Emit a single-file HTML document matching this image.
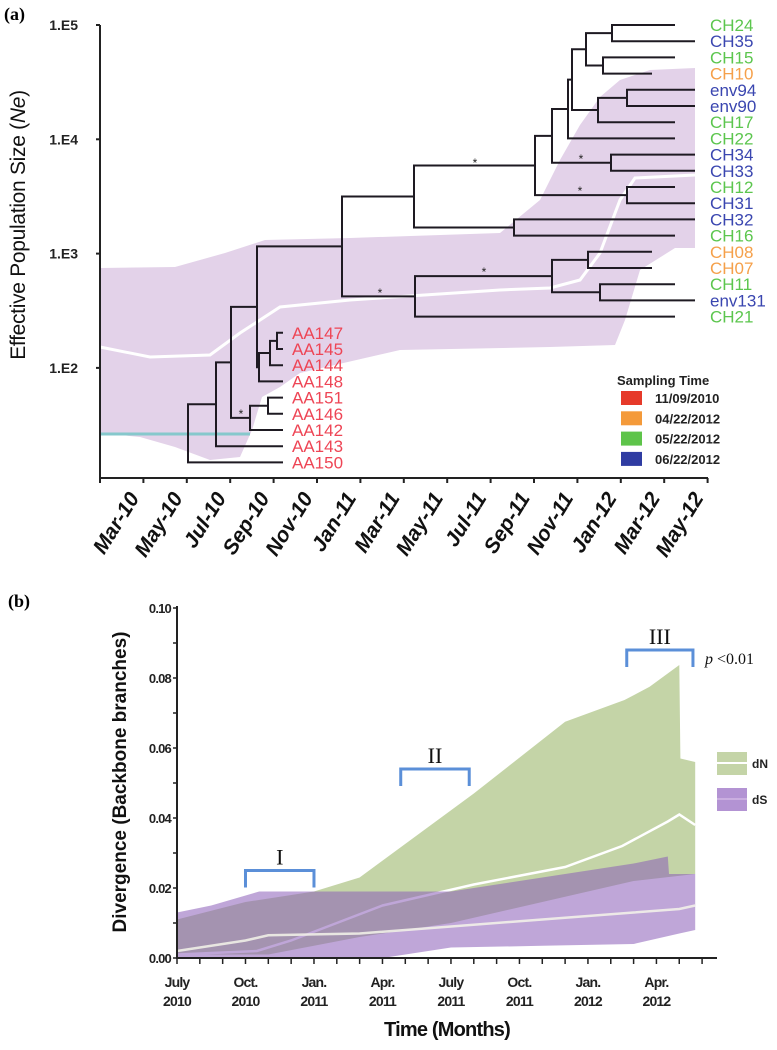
<!DOCTYPE html>
<html><head><meta charset="utf-8"><style>
html,body{margin:0;padding:0;background:#fff;}
svg{display:block;font-family:"Liberation Sans",sans-serif;}
</style></head><body>
<svg id="fig" width="777" height="1050" viewBox="0 0 777 1050" xmlns="http://www.w3.org/2000/svg">
<g id="pa"></g>
<g id="pb"></g>
</svg>
<script>
// ===== Panel (a) data =====
const yTicksA = ["1.E5","1.E4","1.E3","1.E2"];
const yTickExpA = [5,4,3,2];
const xLabelsA = ["Mar-10","May-10","Jul-10","Sep-10","Nov-10","Jan-11","Mar-11","May-11","Jul-11","Sep-11","Nov-11","Jan-12","Mar-12","May-12"];
const leafNames = ["CH24","CH35","CH15","CH10","env94","env90","CH17","CH22","CH34","CH33","CH12","CH31","CH32","CH16","CH08","CH07","CH11","env131","CH21","AA147","AA145","AA144","AA148","AA151","AA146","AA142","AA143","AA150"];
const leafGroup = [2,3,2,1,3,3,2,2,3,3,2,3,3,2,1,1,2,3,2,0,0,0,0,0,0,0,0,0];
const leafTipX = [675,695,675,652,695,695,675,675,695,695,675,695,695,675,652,652,675,695,675,283,283,283,283,283,283,283,283,283];
const nodeX = [612,603,586,627,598,572,568,611,552,627,535,514,414,588,600,552,415,342,277,270,259,257,268,250,231,216,188];
const nodeA = [0,2,28,4,31,30,33,8,34,10,36,12,38,14,16,41,43,40,19,46,47,45,23,50,49,52,53];
const nodeB = [1,3,29,5,6,32,7,9,35,11,37,13,39,15,17,42,18,44,20,21,22,48,24,25,51,26,27];
const legendDates = ["11/09/2010","04/22/2012","05/22/2012","06/22/2012"];
const bandTop = [[100,268],[175,267],[225,253],[265,240],[350,238],[500,233],[540,200],[560,160],[580,125],[600,97],[620,80],[650,70],[695,68],[695,248]];
const bandBot = [[675,248],[640,270],[625,320],[615,345],[550,347],[400,350],[300,373],[280,387],[262,397],[252,430],[240,457],[210,460],[175,447],[140,437],[100,433]];
const medianA = [[100,347],[150,357],[210,355],[240,333],[280,307],[350,300],[500,290],[550,288],[580,280],[600,253],[620,200],[635,178],[695,175]];

// ===== Panel (b) data (t = months since July 2010) =====
const yTicksB = [0,0.02,0.04,0.06,0.08,0.10];
const xLabelsB1 = ["July","Oct.","Jan.","Apr.","July","Oct.","Jan.","Apr."];
const xLabelsB2 = ["2010","2010","2011","2011","2011","2011","2012","2012"];
const dNUpT = [0,3,6,8,13,17,19.6,20.7,22,22.05,22.7];
const dNUpV = [0.011,0.016,0.019,0.023,0.047,0.0675,0.0737,0.0775,0.0837,0.057,0.056];
const dNLoT = [0,4,8,12,16,20,22.7];
const dNLoV = [0.001,0.001,0.006,0.010,0.016,0.022,0.024];
const dNMedT = [0,3.5,5,9,13,17,19.5,21.5,22,22.7];
const dNMedV = [0.001,0.002,0.005,0.015,0.021,0.026,0.032,0.039,0.041,0.038];
const dSUpT = [0,1.5,3.6,12,14,17,20,21.5,21.55,22.7];
const dSUpV = [0.013,0.015,0.019,0.019,0.021,0.024,0.027,0.029,0.024,0.024];
const dSLoT = [0,9,12,16,20,22,22.7];
const dSLoV = [0,0,0.003,0.0035,0.004,0.007,0.008];
const dSMedT = [0,3,4,8,12,16,20,22,22.7];
const dSMedV = [0.002,0.005,0.0065,0.007,0.009,0.011,0.013,0.014,0.015];
const bracketStart = [3,9.8,19.7];
const bracketEnd = [6,12.8,22.6];
const bracketVal = [0.025,0.054,0.088];
const bracketLabels = ["I","II","III"];

const NS="http://www.w3.org/2000/svg";
function mk(tag,attrs,parent,text){const e=document.createElementNS(NS,tag);for(const k in attrs)e.setAttribute(k,attrs[k]);if(text!==undefined)e.textContent=text;parent.appendChild(e);return e;}

// ===== Panel A =====
const pa=document.getElementById('pa');
const yA = e => 25 + (5-e)*114.3;
const xA = i => 100 + i*43.4;
const leafY = i => 25 + i*16.2;
let t=mk('text',{x:4,y:20,'font-family':'Liberation Serif,serif','font-weight':'bold','font-size':18},pa,'(a)');


let band=mk('path',{d:'M'+bandTop.concat(bandBot).map(p=>p.join(',')).join('L')+'Z',fill:'#e3d2e9'},pa);


let med=mk('path',{d:'M'+medianA.map(p=>p.join(',')).join('L'),fill:'none',stroke:'#fff','stroke-width':3},pa);


let cy=mk('line',{x1:100,y1:434,x2:250,y2:434,stroke:'#86c8cc','stroke-width':3},pa);


// axes
let ax=mk('path',{d:'M100,25V478H708',fill:'none',stroke:'#222','stroke-width':2},pa);


yTickExpA.forEach((e,i)=>{
  mk('line',{x1:96,x2:100,y1:yA(e),y2:yA(e),stroke:'#222','stroke-width':2},pa);
  const l=mk('text',{x:78,y:yA(e)+5,'text-anchor':'end','font-size':14,'font-weight':'bold',fill:'#222'},pa,yTicksA[i]);
  
  
});
for(let i=0;i<15;i++){mk('line',{x1:xA(i),x2:xA(i),y1:478,y2:483,stroke:'#222','stroke-width':2},pa);}
xLabelsA.forEach((s,i)=>{
  const l=mk('text',{transform:`translate(${xA(i)+40},498) rotate(-58)`,'text-anchor':'end','font-size':21,'font-weight':'bold','font-style':'italic',fill:'#111'},pa,s);
  
  
});
let yt=mk('text',{transform:'translate(25,225) rotate(-90)','text-anchor':'middle','font-size':21,'letter-spacing':'-0.3',fill:'#111'},pa,'');


yt.innerHTML='Effective Population Size (<tspan font-style="italic">Ne</tspan>)';
// tree
const posY={};
for(let i=0;i<leafNames.length;i++)posY[i]=leafY(i);
const posX={};
for(let i=0;i<leafNames.length;i++)posX[i]=leafTipX[i];
const tree=mk('g',{stroke:'#1e1a22','stroke-width':2,fill:'none'},pa);


nodeX.forEach((x,k)=>{
  const id=28+k,a=nodeA[k],b=nodeB[k];
  posX[id]=x;posY[id]=(posY[a]+posY[b])/2;
  const br=mk('path',{d:`M${posX[a]},${posY[a]}H${x}V${posY[b]}H${posX[b]}`},tree);
  
  
});
const colors=['#ee4555','#f5a04a','#5cc64e','#3a46b0'];
leafNames.forEach((n,i)=>{
  const x = i<19 ? 710 : 292;
  const l=mk('text',{x:x,y:leafY(i)+6,'font-size':17,fill:colors[leafGroup[i]]},pa,n);
  
  
});
[[475,167],[581,163],[580,195],[484,276],[380,297],[241,418]].forEach(p=>{
  const s=mk('text',{x:p[0],y:p[1],'text-anchor':'middle','font-size':12,fill:'#222'},pa,'*');
  
  
});
// legend a
const lg=mk('g',{},pa);


mk('text',{x:617,y:385,'font-size':13,'font-weight':'bold',fill:'#222'},lg,'Sampling Time');
const lgc=['#e63a2a','#f49a3a','#5ec44a','#2f3ca2'];
legendDates.forEach((d,i)=>{
  const y=398+i*20.3;
  mk('rect',{x:621,y:y-7,width:21,height:14,fill:lgc[i]},lg);
  mk('text',{x:655,y:y+5,'font-size':13,'font-weight':'bold',fill:'#222'},lg,d);
});

// ===== Panel B =====
const pb=document.getElementById('pb');
const xB = m => 177 + m*22.83;
const yB = v => 958 - v*3500;
t=mk('text',{x:8,y:607,'font-family':'Liberation Serif,serif','font-weight':'bold','font-size':18},pb,'(b)');


function bandPath(uT,uV,lT,lV){
  let pts=uT.map((m,i)=>[xB(m),yB(uV[i])]);
  for(let i=lT.length-1;i>=0;i--)pts.push([xB(lT[i]),yB(lV[i])]);
  return 'M'+pts.map(p=>p[0].toFixed(1)+','+p[1].toFixed(1)).join('L')+'Z';
}
function linePath(T,V){return 'M'+T.map((m,i)=>xB(m).toFixed(1)+','+yB(V[i]).toFixed(1)).join('L');}
let g1=mk('path',{d:bandPath(dNUpT,dNUpV,dNLoT,dNLoV),fill:'#c4d4a7'},pb);


let m1=mk('path',{d:linePath(dNMedT,dNMedV),fill:'none',stroke:'#fff','stroke-width':2.5},pb);


let p1=mk('path',{d:bandPath(dSUpT,dSUpV,dSLoT,dSLoV),fill:'#8a5cb8','fill-opacity':0.55},pb);


let m2=mk('path',{d:linePath(dSMedT,dSMedV),fill:'none',stroke:'#f4f4ea','stroke-width':2.5,'stroke-opacity':0.85},pb);


let axb=mk('path',{d:'M177,606V958H717',fill:'none',stroke:'#222','stroke-width':2},pb);


for(let k=0;k<=10;k++){const v=k*0.01;mk('line',{x1:173,x2:177,y1:yB(v),y2:yB(v),stroke:'#222','stroke-width':1.5},pb);}
yTicksB.forEach(v=>{
  const l=mk('text',{x:171,y:yB(v)+5,'text-anchor':'end','font-size':13,'font-weight':'bold','letter-spacing':'-0.8',fill:'#222'},pb,v.toFixed(2));
  
  
});
for(let m=0;m<=23;m++){mk('line',{x1:xB(m),x2:xB(m),y1:958,y2:964,stroke:'#222','stroke-width':1.5},pb);}
xLabelsB1.forEach((s,i)=>{
  const x=xB(i*3);
  let l=mk('text',{x:x,y:987,'text-anchor':'middle','font-size':14,'font-weight':'bold','letter-spacing':'-0.8',fill:'#222'},pb,s);
  
  
  l=mk('text',{x:x,y:1006,'text-anchor':'middle','font-size':14,'font-weight':'bold','letter-spacing':'-0.8',fill:'#222'},pb,xLabelsB2[i]);
  
  
});
let xt=mk('text',{x:447,y:1036,'text-anchor':'middle','font-size':20,'font-weight':'bold','letter-spacing':'-0.8',fill:'#111'},pb,'Time (Months)');


let ytb=mk('text',{transform:'translate(126,782) rotate(-90)','text-anchor':'middle','font-size':19,'font-weight':'bold',fill:'#111'},pb,'Divergence (Backbone branches)');


bracketStart.forEach((s,i)=>{
  const x1=xB(s),x2=xB(bracketEnd[i]),y=yB(bracketVal[i]);
  const b=mk('path',{d:`M${x1},${y+17}V${y}H${x2}V${y+17}`,fill:'none',stroke:'#5b8fd8','stroke-width':3},pb);
  
  
  const l=mk('text',{x:(x1+x2)/2,y:y-6,'text-anchor':'middle','font-family':'Liberation Serif,serif','font-size':22,fill:'#111'},pb,bracketLabels[i]);
  
  
});
let pv=mk('text',{x:705,y:664,'font-family':'Liberation Serif,serif','font-size':16,fill:'#111'},pb,'');


pv.innerHTML='<tspan font-style="italic">p</tspan> &lt;0.01';
const lb=mk('g',{},pb);


mk('rect',{x:717,y:752,width:30,height:23,fill:'#c4d4a7'},lb);
mk('line',{x1:717,x2:747,y1:763,y2:763,stroke:'#fff','stroke-width':2},lb);
mk('text',{x:752,y:768,'font-size':12,'font-weight':'bold',fill:'#222'},lb,'dN');
mk('rect',{x:717,y:788,width:30,height:23,fill:'#b393d3'},lb);
mk('line',{x1:717,x2:747,y1:799,y2:799,stroke:'#caaee0','stroke-width':2},lb);
mk('text',{x:752,y:804,'font-size':12,'font-weight':'bold',fill:'#222'},lb,'dS');
</script>
</body></html>
